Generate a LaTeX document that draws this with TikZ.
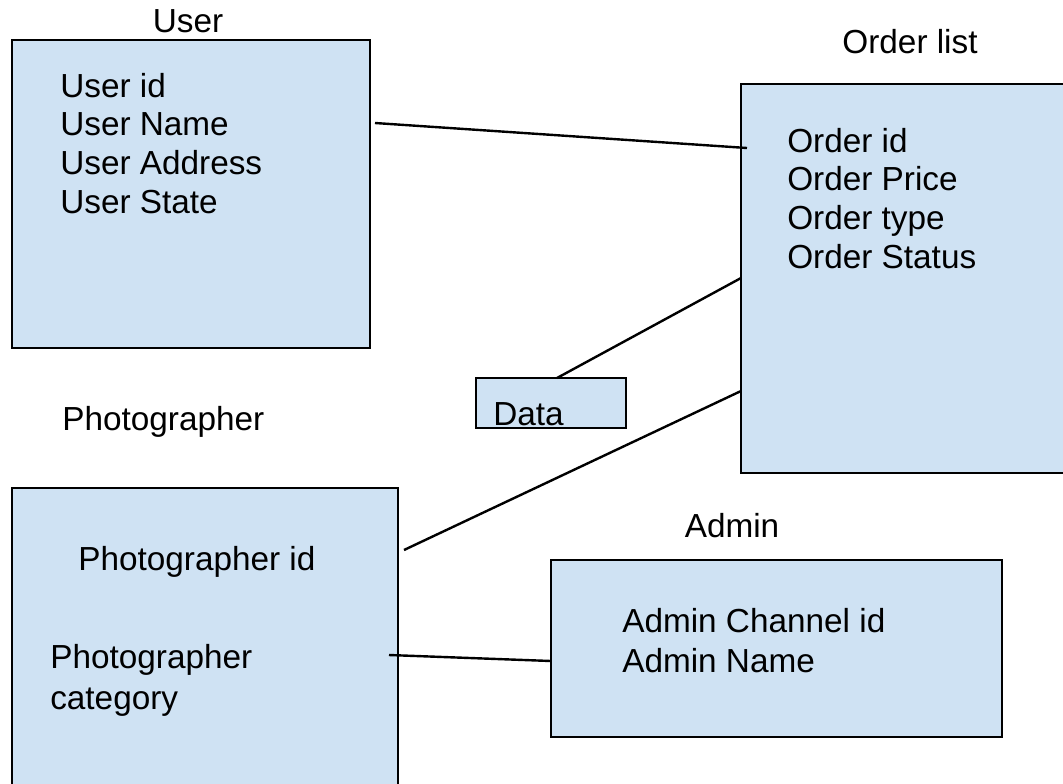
\documentclass[tikz,border=0pt]{standalone}
\usepackage{fontspec}
\setmainfont{Liberation Sans}
\usetikzlibrary{calc}
\definecolor{boxblue}{HTML}{CFE2F3}

\begin{document}
\begin{tikzpicture}[x=0.75pt, y=-0.75pt,
    every node/.style={font=\fontsize{25}{29}\selectfont, inner sep=0pt},
    entity/.style={draw, fill=boxblue, line width=2pt, anchor=north west,
      outer sep=0pt},
    field/.style={anchor=base west},
    title/.style={anchor=base},
    link/.style={line width=1.8pt}]
  \useasboundingbox (0,0) rectangle (1063,783);
  \clip (0,0) rectangle (1063,783);

  % boxes
  \node[entity, minimum width=268.5pt, minimum height=231pt] (user) at (12,40) {};
  \node[entity, minimum width=247pt, minimum height=291.75pt] (order) at (741,84) {};
  \node[entity, minimum width=112.5pt, minimum height=37.5pt] (data) at (476,378) {};
  \node[entity, minimum width=289.5pt, minimum height=240pt] (photo) at (12,488) {};
  \node[entity, minimum width=338.25pt, minimum height=132.75pt] (admin) at (551,560) {};

  % titles
  \node[title] (userT) at (188,32) {User};
  \node[title] (orderT) at (910,53) {Order list};
  \node[field] (photoT) at (62,430) {Photographer};
  \node[title] (adminT) at (732,537) {Admin};

  % fields
  \foreach \txt [count=\i] in {User id, User Name, User Address, User State}
    \node[field] (user-\i) at (60,{58.3+38.7*\i}) {\txt};

  \foreach \txt [count=\i] in {Order id, Order Price, Order type, Order Status}
    \node[field] (order-\i) at (787,{113.3+38.7*\i}) {\txt};

  \node[field] (data-1) at (493,425) {Data};

  \node[field] (photo-1) at (78,570) {Photographer id};
  \node[field] (photo-2) at (50,668) {Photographer};
  \node[field] (photo-3) at (50,709) {category};

  \node[field] (admin-1) at (622,632) {Admin Channel id};
  \node[field] (admin-2) at (622,672) {Admin Name};

  % links
  \draw[link] ($(user.north east)+(5,83)$) -- ($(order.north west)+(6,64)$);
  \draw[link] ($(data.north west)+(81,0)$) -- ($(order.north west)+(0,194)$);
  \draw[link] ($(photo.north east)+(6,62)$) -- ($(order.north west)+(0,307)$);
  \draw[link] ($(photo.north east)+(-9,167)$) -- ($(admin.north west)+(0,101)$);
\end{tikzpicture}
\end{document}
